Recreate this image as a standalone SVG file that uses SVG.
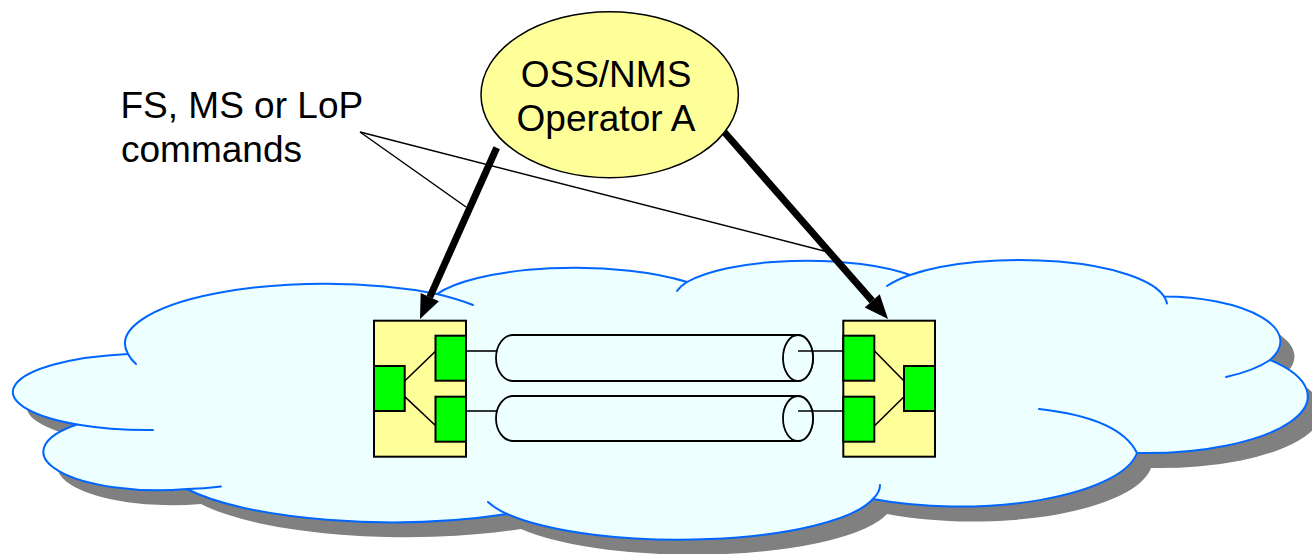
<svg xmlns="http://www.w3.org/2000/svg" xmlns:xlink="http://www.w3.org/1999/xlink" width="1312" height="554" viewBox="0 0 1312 554">
  <style>
    .label { font-family: "Liberation Sans", Arial, sans-serif; font-size: 37px; fill: #000; }
    .cloud { fill: #EEFFFF; stroke: #0066FF; stroke-width: 2; stroke-linejoin: round; }
    .cloud-shadow { fill: #808080; stroke: none; }
    .cloud-fold { fill: none; stroke: #0066FF; stroke-width: 2; stroke-linecap: round; }
    .ne { fill: #FFFF99; stroke: #000; stroke-width: 2; }
    .port { fill: #00FF00; stroke: #000; stroke-width: 2; }
    .wire { fill: none; stroke: #000; stroke-width: 1.6; }
    .tube { fill: #EEFFFF; stroke: #000; stroke-width: 1.8; }
    .cmd { fill: none; stroke: #000; stroke-width: 7; }
    .callout { fill: none; stroke: #000; stroke-width: 1.5; }
    .oss { fill: #FFFF99; stroke: #000; stroke-width: 1.5; }
  </style>
  <defs>
    <!-- outer outline of the network cloud, built from elliptical lobes -->
    <path id="cloudShape" d="M 437,294
      A 149 42 0 0 1 687,282
      A 135 40 0 0 1 910,275
      A 147 45 0 0 1 1164,296.5
      A 118 45 0 0 1 1270,360
      A 162 56.7 0 0 1 1137,453
      A 179 61 0 0 1 873,499
      A 200 53 0 0 1 507,514
      A 230 61 0 0 1 187,489
      A 115 38.5 0 0 1 77,424.5
      A 138 38.5 0 0 1 128,354
      A 200 60 0 0 1 437,294 Z"/>
    <marker id="arrowHead" markerUnits="userSpaceOnUse" markerWidth="26" markerHeight="22"
            viewBox="0 -11 26 22" refX="0" refY="0" orient="auto" overflow="visible">
      <path d="M0,-10 L24,0 L0,10 Z" fill="#000"/>
    </marker>
  </defs>

  <!-- network cloud -->
  <g id="cloud">
    <use xlink:href="#cloudShape" href="#cloudShape" class="cloud-shadow" transform="translate(14,15)"/>
    <use xlink:href="#cloudShape" href="#cloudShape" class="cloud"/>
    <path class="cloud-fold" d="M 437,294 A 200 60 0 0 1 473,305"/>
    <path class="cloud-fold" d="M 136,364 A 200 60 0 0 1 128,354"/>
    <path class="cloud-fold" d="M 153,430 A 138 38.5 0 0 1 77,424.5"/>
    <path class="cloud-fold" d="M 221,486.5 A 115 38.5 0 0 1 187,489"/>
    <path class="cloud-fold" d="M 880,485 A 200 53 0 0 1 873,499"/>
    <path class="cloud-fold" d="M 507,514 A 200 53 0 0 1 488,502"/>
    <path class="cloud-fold" d="M 1039,409 Q 1120,418 1137,453"/>
    <path class="cloud-fold" d="M 1270,360 A 118 45 0 0 1 1226,377"/>
    <path class="cloud-fold" d="M 1164,296.5 A 147 45 0 0 1 1167,303.5"/>
    <path class="cloud-fold" d="M 887,286 A 147 45 0 0 1 910,275"/>
    <path class="cloud-fold" d="M 677,291 A 135 40 0 0 1 687,282"/>
  </g>

  <!-- connectors: links between the network elements -->
  <g id="connectors">
    <!-- upper trail -->
    <line class="wire" x1="466" y1="351" x2="497" y2="351"/>
    <path class="tube" d="M 513,335 L 798,335 A 15 23 0 0 1 798,381 L 513,381 A 17 23 0 0 1 513,335 Z"/>
    <ellipse class="tube" cx="798" cy="358" rx="15" ry="23"/>
    <line class="wire" x1="798" y1="351" x2="843" y2="351"/>
    <!-- lower trail -->
    <line class="wire" x1="466" y1="411" x2="497" y2="411"/>
    <path class="tube" d="M 513,396 L 798,396 A 15 22.5 0 0 1 798,441 L 513,441 A 17 22.5 0 0 1 513,396 Z"/>
    <ellipse class="tube" cx="798" cy="418.5" rx="15" ry="22.5"/>
    <line class="wire" x1="798" y1="411" x2="843" y2="411"/>

    <!-- callout lines for the label -->
    <line class="callout" x1="360" y1="132" x2="466" y2="207"/>
    <line class="callout" x1="360" y1="132" x2="828" y2="252"/>

    <!-- management commands -->
    <line class="cmd" x1="496.7" y1="147.7" x2="429.8" y2="297.1" marker-end="url(#arrowHead)"/>
    <line class="cmd" x1="724" y1="131.7" x2="872.2" y2="300.9" marker-end="url(#arrowHead)"/>
  </g>

  <!-- west network element -->
  <g id="ne-west">
    <rect class="ne" x="374" y="320.7" width="92" height="136"/>
    <line class="wire" x1="404.7" y1="381" x2="436" y2="350.7"/>
    <line class="wire" x1="404.7" y1="396.7" x2="436" y2="426"/>
    <rect class="port" x="374" y="366" width="30.7" height="45"/>
    <rect class="port" x="435.5" y="335.7" width="30.5" height="45"/>
    <rect class="port" x="435.5" y="396.7" width="30.5" height="45"/>
  </g>

  <!-- east network element -->
  <g id="ne-east">
    <rect class="ne" x="843.3" y="320.7" width="91.7" height="136"/>
    <line class="wire" x1="874.3" y1="350.7" x2="904" y2="381"/>
    <line class="wire" x1="874.3" y1="426" x2="904" y2="396.7"/>
    <rect class="port" x="843.3" y="335.7" width="31" height="45"/>
    <rect class="port" x="843.3" y="396.7" width="31" height="45"/>
    <rect class="port" x="904" y="366" width="31" height="45"/>
  </g>

  <!-- management system -->
  <g id="oss-nms">
    <ellipse class="oss" cx="609.7" cy="94.7" rx="128.7" ry="83"/>
    <text class="label" x="606" y="87.3" text-anchor="middle">OSS/NMS</text>
    <text class="label" x="606" y="130.7" text-anchor="middle">Operator A</text>
  </g>

  <!-- command label -->
  <g id="commands-label">
    <text class="label" x="120.5" y="118.3">FS, MS or LoP</text>
    <text class="label" x="121" y="161.7">commands</text>
  </g>
</svg>
